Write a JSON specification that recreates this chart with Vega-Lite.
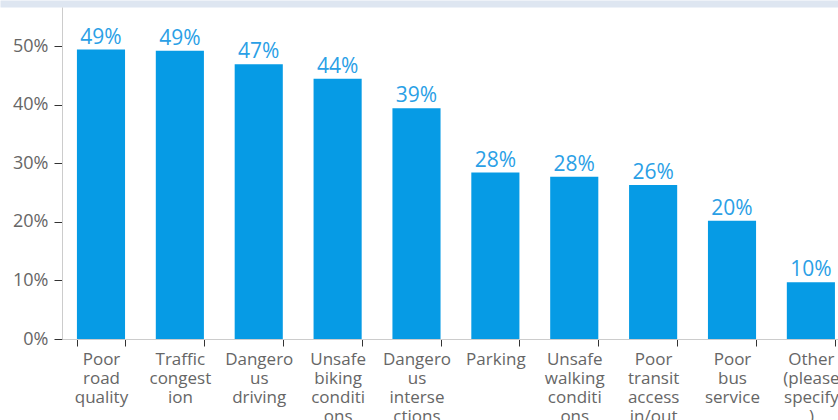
{
  "$schema": "https://vega.github.io/schema/vega-lite/v6.json",
  "width": 776,
  "height": 332,
  "autosize": {"type": "none"},
  "padding": {"left": 62, "top": 7, "right": 0, "bottom": 81},
  "background": "white",
  "config": {"view": {"stroke": null}, "font": "Open Sans"},
  "data": {
    "values": [
      {"category": "Poor road quality", "value": 0.494},
      {"category": "Traffic congestion", "value": 0.492},
      {"category": "Dangerous driving", "value": 0.469},
      {"category": "Unsafe biking conditions", "value": 0.444},
      {"category": "Dangerous intersections", "value": 0.394},
      {"category": "Parking", "value": 0.284},
      {"category": "Unsafe walking conditions", "value": 0.277},
      {"category": "Poor transit access in/out", "value": 0.263},
      {"category": "Poor bus service", "value": 0.202},
      {"category": "Other (please specify)", "value": 0.097}
    ]
  },
  "layer": [
    {
      "layer": [
        {
          "mark": {"type": "bar", "color": "#069be5"},
          "encoding": {
            "x": {
              "field": "category",
              "type": "nominal",
              "sort": null,
              "scale": {"paddingInner": 0.39, "paddingOuter": 0.114, "align": 0.83},
              "axis": {
                "title": null,
                "labelAngle": 0,
                "domainColor": "#cccccc",
                "tickColor": "#333333",
                "tickSize": 7,
                "tickBand": "extent",
                "labelColor": "#666666",
                "labelFontSize": 17,
                "labelLineHeight": 19,
                "labelPadding": 5,
                "labelOverlap": false,
                "labelBound": false,
                "labelExpr": "{'Poor road quality': ['Poor','road','quality'], 'Traffic congestion': ['Traffic','congest','ion'], 'Dangerous driving': ['Dangero','us','driving'], 'Unsafe biking conditions': ['Unsafe','biking','conditi','ons'], 'Dangerous intersections': ['Dangero','us','interse','ctions'], 'Parking': ['Parking'], 'Unsafe walking conditions': ['Unsafe','walking','conditi','ons'], 'Poor transit access in/out': ['Poor','transit','access','in/out'], 'Poor bus service': ['Poor','bus','service'], 'Other (please specify)': ['Other','(please','specify',')']}[datum.value]"
              }
            },
            "y": {
              "field": "value",
              "type": "quantitative",
              "scale": {"domain": [0, 0.5666], "nice": false},
              "axis": {
                "title": null,
                "values": [0, 0.1, 0.2, 0.3, 0.4, 0.5],
                "format": ".0%",
                "grid": false,
                "domainColor": "#cccccc",
                "tickColor": "#333333",
                "tickSize": 8,
                "labelColor": "#666666",
                "labelFontSize": 18,
                "labelPadding": 6
              }
            }
          }
        },
        {
          "mark": {"type": "text", "baseline": "bottom", "dy": -2, "fontSize": 21, "color": "#2aa0e6"},
          "encoding": {
            "x": {"field": "category", "type": "nominal", "sort": null},
            "y": {"field": "value", "type": "quantitative"},
            "text": {"field": "value", "type": "quantitative", "format": ".0%"}
          }
        }
      ]
    },
    {
      "mark": {"type": "rule", "opacity": 0},
      "encoding": {
        "x": {
          "field": "category",
          "type": "nominal",
          "sort": null,
          "scale": {"range": [-62, 776]},
          "axis": {
            "orient": "top",
            "title": null,
            "labels": false,
            "ticks": false,
            "domainColor": "#dee6f1",
            "domainWidth": 7,
            "offset": 3.5
          }
        }
      }
    }
  ],
  "resolve": {"scale": {"x": "independent"}, "axis": {"x": "independent"}}
}
